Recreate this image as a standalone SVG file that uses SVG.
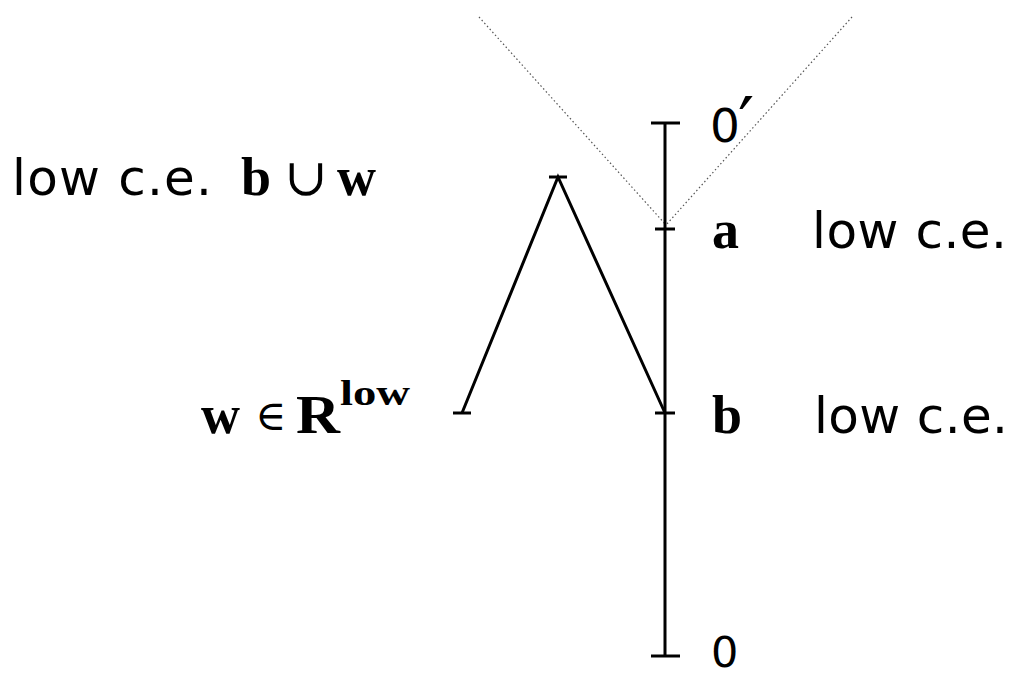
<svg xmlns="http://www.w3.org/2000/svg" width="1016" height="675" viewBox="0 0 1016 675">
<style>
.ln{stroke:#000;stroke-width:3;fill:none;stroke-linecap:butt}
.dot{stroke:#555;stroke-width:1.2;fill:none;stroke-dasharray:1.5 2.5}
.sans{font-family:"DejaVu Sans","Liberation Sans",sans-serif;fill:#000}
.bf{font-family:"Liberation Serif","DejaVu Serif",serif;font-weight:bold;fill:#000}
.rm{font-family:"DejaVu Serif","Liberation Serif",serif;fill:#000}
</style>
<rect width="1016" height="675" fill="#fff"/>
<g id="connectors">
<line class="dot" x1="479" y1="17" x2="666" y2="225"/>
<line class="dot" x1="852" y1="17" x2="666" y2="225"/>
<line class="ln" x1="665" y1="123" x2="665" y2="656"/>
<polyline class="ln" points="462,413 558,177 665,413"/>
</g>
<g id="node-top">
<line class="ln" x1="651" y1="123" x2="680" y2="123"/>
<text class="sans" x="710" y="142" font-size="47">0<tspan font-size="72" dx="-2" dy="6">′</tspan></text>
</g>
<g id="node-a">
<line class="ln" x1="655" y1="229" x2="675" y2="229"/>
<text class="bf" x="712" y="248" font-size="54">a</text>
<text class="sans" x="812" y="248" font-size="50" textLength="195" lengthAdjust="spacing">low c.e.</text>
</g>
<g id="node-join">
<line class="ln" x1="549" y1="177" x2="567" y2="177"/>
<text class="sans" x="12" y="195" font-size="50" textLength="200" lengthAdjust="spacing">low c.e.</text>
<text class="bf" x="241" y="195" font-size="54">b</text>
<text class="rm" x="284" y="195" font-size="52">∪</text>
<text class="bf" x="337" y="195" font-size="54">w</text>
</g>
<g id="node-w">
<line class="ln" x1="453" y1="413" x2="471" y2="413"/>
<text class="bf" x="201" y="433" font-size="54">w</text>
<text class="rm" x="255" y="430" font-size="42">∈</text>
<text class="bf" x="296" y="433" font-size="54" textLength="44" lengthAdjust="spacingAndGlyphs">R</text>
<text class="bf" x="340" y="405" font-size="35" textLength="70" lengthAdjust="spacingAndGlyphs">low</text>
</g>
<g id="node-b">
<line class="ln" x1="655" y1="413" x2="675" y2="413"/>
<text class="bf" x="712" y="433" font-size="54">b</text>
<text class="sans" x="814" y="433" font-size="50" textLength="194" lengthAdjust="spacing">low c.e.</text>
</g>
<g id="node-bottom">
<line class="ln" x1="651" y1="656" x2="680" y2="656"/>
<text class="sans" x="711" y="667" font-size="43">0</text>
</g>
</svg>
